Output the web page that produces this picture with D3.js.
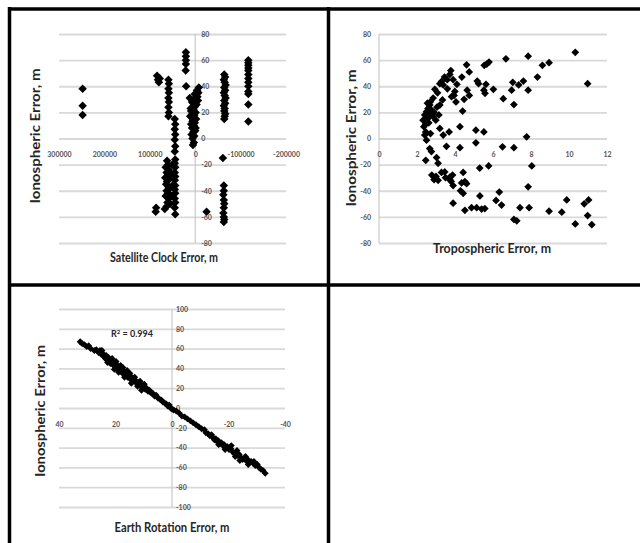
<!DOCTYPE html>
<html>
<head>
<meta charset="utf-8">
<script src="https://cdn.jsdelivr.net/npm/d3@7"></script>
<style>
  body { margin: 0; background: #fff; }
  svg { display: block; }
</style>
</head>
<body>
<div id="fig"></div>
<script>
// tick values
const ionoTicks = [-80, -60, -40, -20, 0, 20, 40, 60, 80];
const ionoTicks100 = [-100, -80, -60, -40, -20, 0, 20, 40, 60, 80, 100];
const clockTicks = [300000, 200000, 100000, 0, -100000, -200000];
const tropoTicks = [0, 2, 4, 6, 8, 10, 12];
const rotationTicks = [40, 20, 0, -20, -40];

// satellite clock error (m) vs ionospheric error (m)
const clockPoints = [
  [248000, 38], [248000, 25], [248000, 18],
  [84000, 48], [82000, 45], [80000, 43], [78000, 46], [86000, -53], [87000, -56],
  [59000, 45], [58000, 42], [59000, 38], [58000, 35], [59000, 31], [58000, 28], [59000, 24], [58000, 20], [59000, 17],
  [45000, 15], [44000, 11], [45000, 7], [44000, 3], [45000, -1], [44000, -6], [45000, -10], [44000, -16],
  [45000, -19], [44000, -22], [45000, -26], [44000, -29], [45000, -32], [44000, -36], [45000, -39],
  [44000, -42], [45000, -46], [44000, -49], [45000, -53], [44000, -58],
  [62000, -17], [60000, -20], [65000, -22], [58000, -24], [63000, -26], [60000, -28], [66000, -30],
  [57000, -31], [62000, -33], [64000, -35], [59000, -37], [55000, -38], [63000, -40], [60000, -42],
  [65000, -44], [58000, -46], [61000, -49], [63000, -52], [67000, -54], [55000, -50], [52000, -44],
  [50000, -36], [53000, -27], [51000, -20],
  [20500, 66], [20500, 63], [20500, 60], [20500, 57], [21000, 52], [20000, 40],
  [5000, -5], [3000, -3], [6000, 0], [2000, 2], [8000, 3], [4000, 5], [0, 6], [7000, 8], [3000, 10],
  [9000, 11], [1000, 12], [5000, 14], [-2000, 15], [8000, 16], [2000, 18], [6000, 19], [-1000, 20],
  [4000, 22], [10000, 23], [0, 25], [-3000, 26], [7000, 28], [3000, 30], [12000, 31], [-5000, 32],
  [1000, 34], [-7000, 35], [-4000, 37], [-8000, 39], [6000, 13], [-1000, 8], [2000, 24], [9000, 21],
  [-6000, 29], [11000, 17], [4000, 27],
  [-64000, 49], [-66000, 47], [-63000, 45], [-65000, 43], [-67000, 41], [-64000, 39], [-66000, 37],
  [-63000, 35], [-65000, 33], [-67000, 31], [-64000, 29], [-66000, 27], [-63000, 25], [-65000, 23],
  [-64000, 21], [-66000, 19], [-65000, 17], [-64000, 15],
  [-61000, -15], [-63000, -36], [-63000, -40], [-62000, -43], [-63000, -47], [-64000, -50],
  [-63000, -53], [-62000, -57], [-63000, -60], [-64000, -62], [-63000, -64], [-25000, -56],
  [-117000, 60], [-117000, 58], [-117000, 56], [-117000, 54], [-117000, 52], [-117000, 49],
  [-117000, 46], [-117000, 43], [-117000, 40], [-117000, 36], [-117000, 34], [-117000, 26], [-117000, 13]
];

// tropospheric error (m) vs ionospheric error (m)
const tropoPoints = [
  [10.33, 66], [10.98, 42], [8.95, 58], [8.6, 56], [8.34, 47], [7.85, 63], [7.85, 37], [7.6, 44],
  [7.35, 41], [7.04, 43], [6.98, 37], [7.1, 26], [6.68, 61], [6.54, 30.5], [5.79, 58.5], [5.67, 57],
  [5.54, 56], [6.02, 37.7], [5.63, 41.5], [5.52, 37], [5.58, 34.6], [5.17, 44], [5.24, 42], [4.61, 56.4],
  [4.75, 51], [4.36, 47], [4.64, 37], [4.75, 33], [4.48, 30], [4.4, 21], [4.1, 41.5], [3.99, 36],
  [3.82, 32], [3.78, 52], [3.73, 49], [3.9, 45], [3.59, 45], [3.29, 43.6], [3.2, 42], [3.38, 41],
  [2.94, 37.7], [3.08, 35], [2.85, 31], [3.34, 29.5], [3.2, 25.6], [2.67, 25.6], [2.58, 23], [2.5, 20.5],
  [2.67, 19.2], [2.41, 18], [2.58, 15.4], [2.32, 14], [2.85, 16.7], [2.99, 14], [2.36, 9], [2.46, 5],
  [2.41, 2.6], [2.71, 3.8], [2.5, -1.3], [2.67, -7.7], [2.76, -10], [2.46, -16.7], [3.2, 7.7],
  [3.38, 2.6], [3.69, 5], [3.55, -6], [4.26, 9], [4.26, -7], [5.1, 6.4], [5.52, 5], [5.1, -3.3],
  [5.3, -22.6], [5.77, -21], [6.5, -6.4], [7.1, -7], [7.77, 1.3], [8.04, -21], [7.85, -37],
  [3.03, -14.6], [3.11, -19], [2.78, -28], [2.9, -31.5], [3.11, -32], [3.29, -26], [3.46, -25.6],
  [3.73, -29.5], [3.73, -31.5], [3.87, -28], [3.9, -36], [4.43, -26], [4.52, -33], [4.61, -34.6],
  [4.29, -40], [4.43, -42], [3.9, -49.5], [4.52, -55], [4.87, -53], [5.31, -44], [5.4, -54],
  [5.57, -53.6], [5.14, -53], [6.16, -47.4], [6.33, -41], [6.45, -51], [7.42, -53], [7.9, -53],
  [7.1, -62], [7.25, -63], [8.95, -55.6], [9.62, -56.4], [9.88, -47], [10.33, -65.4], [10.8, -50],
  [11.03, -47], [10.98, -59], [11.2, -66],
  [2.55, 27], [2.75, 22], [2.9, 20], [3.05, 24], [2.45, 11], [2.62, 12], [3.45, 47], [3.6, 38],
  [3.95, 33], [4.05, 28], [3.15, 18], [2.7, 28], [3.0, -29], [3.5, -30], [3.8, -33], [4.35, -34]
];

// earth rotation error (m) vs ionospheric error (m)
const rotationPoints = [
  [32.5, 67], [31.8, 65], [31, 64], [30.2, 62], [29.5, 63], [28.8, 60], [27.5, 58], [26.8, 59], [26, 56],
  [25.5, 58], [25, 54], [24.5, 55], [24, 52], [23.6, 50], [23, 49], [22.5, 51], [22, 47], [21.8, 45],
  [21.5, 48], [21, 44], [20.6, 46], [20.2, 42], [20, 45], [19.6, 40], [19.3, 43], [19, 41], [18.7, 38],
  [18.4, 40], [18.1, 37], [17.8, 39], [17.5, 35], [17.2, 38], [16.9, 34], [16.6, 36], [16.3, 33],
  [16, 35], [15.7, 31], [15.4, 33], [15, 30], [14.6, 32], [14.2, 28], [13.8, 30], [13.4, 27], [13, 28],
  [12.5, 25], [12, 26], [11.5, 23], [11, 24], [10.5, 21], [10, 22], [9.5, 19], [9, 20], [8.5, 17],
  [8, 18], [7.4, 15], [6.8, 15], [6.2, 12], [5.6, 13], [5, 10], [4.4, 9], [3.8, 8], [3.2, 6], [2.6, 5],
  [2, 4], [1.5, 2], [1, 3], [0.5, 0], [0, -1], [-0.6, -2], [-1.5, -3], [-2.5, -5], [-3.5, -8],
  [-4.5, -9], [-5.5, -11], [-6.5, -13], [-7.5, -15], [-8.5, -17], [-9.5, -19], [-10.5, -21],
  [-11.5, -22], [-12, -25], [-12.8, -26], [-13.4, -28], [-14, -27], [-14.6, -30], [-15, -32],
  [-15.5, -31], [-16, -34], [-16.4, -33], [-17, -36], [-17.5, -35], [-18, -38], [-18.5, -37],
  [-19, -40], [-19.6, -39], [-20.2, -42], [-20.8, -41], [-21.4, -44], [-22, -46], [-22.6, -45],
  [-23.2, -48], [-23.8, -47], [-24.4, -50], [-25, -52], [-25.6, -51], [-26.2, -53], [-26.8, -52],
  [-27.4, -55], [-28, -54], [-28.8, -56], [-29.5, -58], [-30.2, -57], [-30.8, -60], [-31.5, -62],
  [-32.2, -63], [-33, -66],
  [22.8, 46], [21.2, 50], [20.4, 39], [19.8, 47], [18.9, 36], [18.2, 43], [17.4, 41], [16.8, 31],
  [15.9, 38], [14.9, 35], [14.4, 25], [13.2, 31], [12.2, 22], [11.3, 27], [24.8, 58], [23.3, 53],
  [10.8, 18], [9.8, 24], [-21, -38], [-23, -43], [-24, -53], [-26, -49], [-27, -57], [-29, -54],
  [-18.8, -42], [-16.5, -37], [-22.4, -49]
];

const W = 640, H = 543;
const svg = d3.select("#fig").append("svg")
  .attr("width", W)
  .attr("height", H);

const font = "Lato, 'Open Sans', sans-serif";

function panel(o) {
  const x = d3.scaleLinear().domain(o.xDomain).range(o.xRange);
  const y = d3.scaleLinear().domain(o.yDomain).range(o.yRange);
  const g = svg.append("g");

  // horizontal gridlines
  g.append("g")
    .attr("transform", "translate(" + o.xRange[0] + ",0)")
    .call(d3.axisLeft(y).tickValues(o.yTicks).tickSize(-(o.xRange[1] - o.xRange[0])).tickFormat(""))
    .call(a => a.select(".domain").remove())
    .selectAll("line")
    .attr("stroke", "#d9d9d9")
    .attr("stroke-width", 1.8);

  // vertical axis line at x = 0
  g.append("line")
    .attr("x1", x(0)).attr("x2", x(0))
    .attr("y1", y(o.yDomain[0])).attr("y2", y(o.yDomain[1]))
    .attr("stroke", "#bfbfbf")
    .attr("stroke-width", 1);

  // y tick labels
  const yAxis = (o.yLabelSide === "right" ? d3.axisRight(y) : d3.axisLeft(y))
    .tickValues(o.yTicks).tickSize(0).tickPadding(o.yPad).tickFormat(d => String(d));
  g.append("g")
    .attr("transform", "translate(" + x(0) + ",0)")
    .call(yAxis)
    .call(a => a.select(".domain").remove())
    .selectAll("text")
    .style("font-family", font)
    .style("font-size", "7px")
    .style("font-weight", "bold")
    .attr("fill", "#555");

  // x tick labels
  g.append("g")
    .attr("transform", "translate(0," + y(0) + ")")
    .call(d3.axisBottom(x).tickValues(o.xTicks).tickSize(0).tickPadding(14).tickFormat(d => String(d)))
    .call(a => a.select(".domain").remove())
    .selectAll("text")
    .style("font-family", font)
    .style("font-size", "7px")
    .style("font-weight", "bold")
    .attr("fill", "#555");

  // markers
  g.append("g")
    .selectAll("path")
    .data(o.points)
    .join("path")
    .attr("transform", d => "translate(" + x(d[0]) + "," + y(d[1]) + ") rotate(45)")
    .attr("d", d3.symbol(d3.symbolSquare, o.markerSize))
    .attr("fill", "#000");

  // axis titles
  g.append("text")
    .attr("x", o.xTitle[0]).attr("y", o.xTitle[1])
    .attr("text-anchor", "middle")
    .attr("textLength", o.xTitle[2])
    .attr("lengthAdjust", "spacingAndGlyphs")
    .style("font-family", font)
    .style("font-size", "13px")
    .style("font-weight", "bold")
    .attr("fill", "#262626")
    .text(o.xLabel);

  g.append("text")
    .attr("transform", "translate(" + o.yTitle[0] + "," + o.yTitle[1] + ") rotate(-90)")
    .attr("text-anchor", "middle")
    .attr("textLength", o.yTitle[2])
    .attr("lengthAdjust", "spacingAndGlyphs")
    .style("font-family", font)
    .style("font-size", "14px")
    .style("font-weight", "bold")
    .attr("fill", "#262626")
    .text("Ionospheric Error, m");

  return { g, x, y };
}

panel({
  points: clockPoints,
  xDomain: [300000, -200000], xRange: [59, 286],
  yDomain: [-80, 80], yRange: [243, 34],
  xTicks: clockTicks, yTicks: ionoTicks,
  yLabelSide: "right", yPad: 6,
  markerSize: 36,
  xLabel: "Satellite Clock Error, m",
  xTitle: [164, 262, 108],
  yTitle: [40, 136, 135]
});

panel({
  points: tropoPoints,
  xDomain: [0, 12], xRange: [379, 607],
  yDomain: [-80, 80], yRange: [243, 34],
  xTicks: tropoTicks, yTicks: ionoTicks,
  yLabelSide: "left", yPad: 8,
  markerSize: 30,
  xLabel: "Tropospheric Error, m",
  xTitle: [492, 253, 118],
  yTitle: [356, 138, 137]
});

const rot = panel({
  points: rotationPoints,
  xDomain: [40, -40], xRange: [59, 285],
  yDomain: [-100, 100], yRange: [507, 309],
  xTicks: rotationTicks, yTicks: ionoTicks100,
  yLabelSide: "right", yPad: 4,
  markerSize: 24,
  xLabel: "Earth Rotation Error, m",
  xTitle: [172, 532, 115],
  yTitle: [45, 411, 132]
});

// R-squared annotation
const r2 = rot.g.append("text")
  .attr("x", 132).attr("y", 337)
  .attr("text-anchor", "middle")
  .style("font-family", font)
  .style("font-size", "9px")
  .style("font-weight", "bold")
  .attr("fill", "#262626");
r2.append("tspan").text("R");
r2.append("tspan").attr("dy", -3).style("font-size", "6px").text("2");
r2.append("tspan").attr("dy", 3).text(" = 0.994");

// panel frame
const frame = [
  [8, 9, 640, 9], [9.5, 7, 9.5, 543], [328.5, 7, 328.5, 543], [8, 285, 640, 285]
];
svg.append("g")
  .selectAll("line")
  .data(frame)
  .join("line")
  .attr("x1", d => d[0]).attr("y1", d => d[1])
  .attr("x2", d => d[2]).attr("y2", d => d[3])
  .attr("stroke", "#000")
  .attr("stroke-width", 3.5);
</script>
</body>
</html>
